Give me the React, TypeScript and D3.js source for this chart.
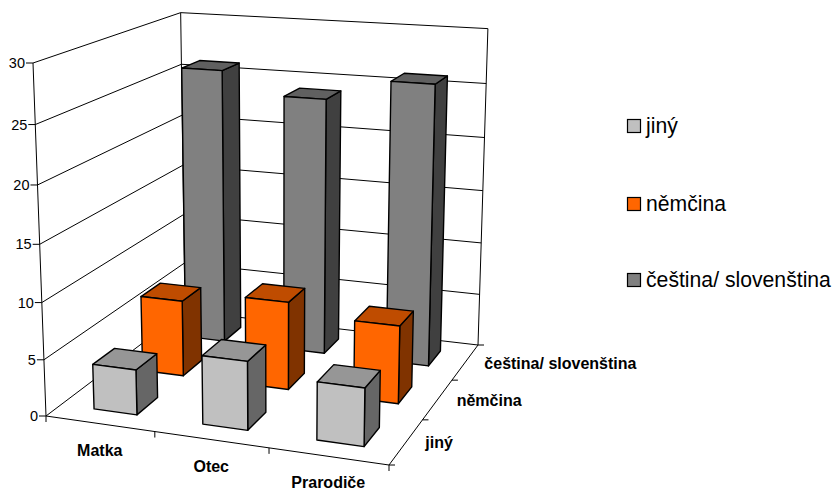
import React from "react";
import * as d3 from "d3";

const categories = ["Matka", "Otec", "Prarodiče"];
const seriesNames = ["jiný", "němčina", "čeština/ slovenština"];
const jinyValues = [4, 6, 5];
const nemcinaValues = [7, 8, 7];
const cestinaValues = [26, 24, 26];
const valueTicks = [0, 5, 10, 15, 20, 25, 30];

const seriesValues = [jinyValues, nemcinaValues, cestinaValues];
const faceColors = [
  { front: "#c0c0c0", top: "#969696", side: "#666666" },
  { front: "#ff6600", top: "#bf4c00", side: "#803300" },
  { front: "#808080", top: "#606060", side: "#404040" },
];

type Pt = [number, number];

// Corners of the chart box on screen
const floorFrontLeft: Pt = [46, 416];
const floorFrontRight: Pt = [389, 465];
const floorBackLeft: Pt = [185, 311];
const floorBackRight: Pt = [478, 345];
const topFrontLeft: Pt = [33, 63];
const verticalWeight = 0.947;

const hom = (p: Pt) => [p[0], p[1], 1];

function det3(a: number[], b: number[], c: number[]) {
  return (
    a[0] * (b[1] * c[2] - b[2] * c[1]) -
    b[0] * (a[1] * c[2] - a[2] * c[1]) +
    c[0] * (a[1] * b[2] - a[2] * b[1])
  );
}

// Perspective camera: solves the floor quad, then adds the vertical direction
function makeCamera() {
  const A = hom(floorFrontLeft);
  const B = hom(floorFrontRight);
  const C = hom(floorBackLeft);
  const F = hom(floorBackRight);
  const D = hom(topFrontLeft);
  // b*B + c*C - f*F = A
  const F2 = F.map((x) => -x);
  const den = det3(B, C, F2);
  const b = det3(A, C, F2) / den;
  const c = det3(B, A, F2) / den;
  const colU = B.map((x, i) => b * x - A[i]);
  const colV = C.map((x, i) => c * x - A[i]);
  const colH = D.map((x, i) => verticalWeight * x - A[i]);
  return (u: number, v: number, h: number): Pt => {
    const p = A.map((x, i) => x + u * colU[i] + v * colV[i] + h * colH[i]);
    return [p[0] / p[2], p[1] / p[2]];
  };
}

const project = makeCamera();

const heightScale = d3.scaleLinear().domain([0, 30]).range([0, 1]);
const uScale = d3.scaleBand<string>().domain(categories).range([0.003, 1.003]).paddingInner(0.6).paddingOuter(0.3);
const vScale = d3.scaleBand<string>().domain(seriesNames).range([0, 1]).paddingInner(0.57).paddingOuter(0.285);
const uCells = d3.scaleBand<string>().domain(categories).range([0, 1]);
const vCells = d3.scaleBand<string>().domain(seriesNames).range([0, 1]);

const poly = (pts: Pt[]) => d3.line()(pts) + "Z";
const seg = (a: Pt, b: Pt) => d3.line()([a, b]) as string;

const FONT = "'Liberation Sans', Arial, sans-serif";
const INK = "#000000";

function Bar({ ci, si }: { ci: number; si: number }) {
  const u0 = uScale(categories[ci])!;
  const u1 = u0 + uScale.bandwidth();
  const v0 = vScale(seriesNames[si])!;
  const v1 = v0 + vScale.bandwidth();
  const h = heightScale(seriesValues[si][ci]);
  const c = faceColors[si];
  const front = [project(u0, v0, 0), project(u1, v0, 0), project(u1, v0, h), project(u0, v0, h)];
  const side = [project(u1, v0, 0), project(u1, v1, 0), project(u1, v1, h), project(u1, v0, h)];
  const top = [project(u0, v0, h), project(u1, v0, h), project(u1, v1, h), project(u0, v1, h)];
  return (
    <g stroke={INK} strokeWidth={1.4} strokeLinejoin="round">
      <path d={poly(side)} fill={c.side} />
      <path d={poly(top)} fill={c.top} />
      <path d={poly(front)} fill={c.front} />
    </g>
  );
}

export default function App() {
  const tickOffsets = [uCells.step(), uCells.step() * 2];
  const depthOffsets = [vCells.step(), vCells.step() * 2];
  return (
    <svg
      width={837}
      height={491}
      viewBox="0 0 837 491"
      style={{ position: "absolute", left: 0, top: 0, background: "#ffffff" }}
      fontFamily={FONT}
    >
      {/* Walls and gridlines */}
      <g fill="none" stroke={INK} strokeWidth={1}>
        {valueTicks.map((t) => {
          const h = heightScale(t);
          return (
            <g key={t}>
              <path d={seg(project(0, 0, h), project(0, 1, h))} />
              <path d={seg(project(0, 1, h), project(1, 1, h))} />
              <path d={seg(project(0, 0, h), [project(0, 0, h)[0] - 7, project(0, 0, h)[1]])} />
            </g>
          );
        })}
        <path d={seg(project(0, 0, 0), project(0, 0, 1))} />
        <path d={seg(project(0, 1, 0), project(0, 1, 1))} />
        <path d={seg(project(1, 1, 0), project(1, 1, 1))} />
        {/* Floor edges */}
        <path d={seg(project(0, 0, 0), project(1, 0, 0))} />
        <path d={seg(project(1, 0, 0), project(1, 1, 0))} />
        {/* Category ticks along the front edge */}
        {[0, ...tickOffsets, 1].map((u) => {
          const p = project(u, 0, 0);
          return <path key={u} d={seg(p, [p[0], p[1] + 6])} />;
        })}
        {/* Series ticks along the right edge */}
        {[0, ...depthOffsets, 1].map((v) => {
          const p = project(1, v, 0);
          return <path key={v} d={seg(p, [p[0] + 6, p[1]])} />;
        })}
      </g>

      {/* Bars, back row first */}
      {[2, 1, 0].map((si) => categories.map((_, ci) => <Bar key={`${si}-${ci}`} ci={ci} si={si} />))}

      {/* Value axis labels */}
      <g fontSize={14.5} fill="#000000" textAnchor="end">
        {valueTicks.map((t) => {
          const p = project(0, 0, heightScale(t));
          return (
            <text key={t} x={p[0] - 8} y={p[1] + 5}>
              {t}
            </text>
          );
        })}
      </g>

      {/* Category labels */}
      <g fontSize={16} fontWeight="bold" fill="#000000" textAnchor="middle">
        {categories.map((name) => {
          const p = project(uCells(name)! + uCells.bandwidth() / 2, 0, 0);
          return (
            <text key={name} x={p[0]} y={p[1] + 32}>
              {name}
            </text>
          );
        })}
      </g>

      {/* Series labels along the right edge */}
      <g fontSize={16} fontWeight="bold" fill="#000000">
        {seriesNames.map((name) => {
          const p = project(1, vCells(name)! + vCells.bandwidth() / 2, 0);
          return (
            <text key={name} x={p[0] + 19} y={p[1] + 6.5}>
              {name}
            </text>
          );
        })}
      </g>

      {/* Legend */}
      <g>
        {seriesNames.map((name, i) => {
          const y = [126, 204, 280][i];
          return (
            <g key={name}>
              <rect x={627.5} y={y - 6.5} width={13} height={13} fill={faceColors[i].front} stroke={INK} strokeWidth={1.2} />
              <text x={646} y={y + 7} fontSize={21.2} fill="#000000">
                {name}
              </text>
            </g>
          );
        })}
      </g>
    </svg>
  );
}
